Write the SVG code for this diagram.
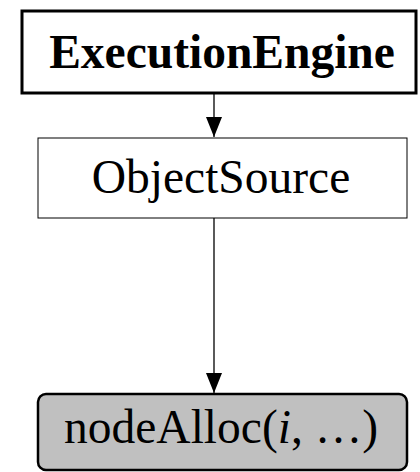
<svg xmlns="http://www.w3.org/2000/svg" width="420" height="472" viewBox="0 0 420 472">
<style>
text{font-family:"Liberation Serif","Times New Roman",serif;font-size:47.5px;fill:#000;text-anchor:middle}
.conn line{stroke:#000;stroke-width:1.3}
</style>
<defs>
<marker id="ah" markerUnits="userSpaceOnUse" markerWidth="20" markerHeight="16" refX="20" refY="8" orient="auto" viewBox="0 0 20 16">
<path d="M0,0 L20,8 L0,16 Z" fill="#000"/>
</marker>
</defs>
<g id="executionEngine">
<rect x="22" y="11" width="394" height="82" fill="#fff" stroke="#000" stroke-width="3"/>
<text x="222" y="68" font-weight="bold">ExecutionEngine</text>
</g>
<g id="objectSource">
<rect x="38" y="138" width="369" height="80" fill="#fff" stroke="#000" stroke-width="1"/>
<text x="221" y="193">ObjectSource</text>
</g>
<g id="nodeAlloc">
<rect x="38" y="394" width="369" height="76" rx="8" fill="#c0c0c0" stroke="#000" stroke-width="2.5"/>
<text x="221" y="443">nodeAlloc(<tspan font-style="italic">i</tspan>, …)</text>
</g>
<g class="conn">
<line x1="214" y1="93" x2="214" y2="137" marker-end="url(#ah)"/>
<line x1="214" y1="218" x2="214" y2="393" marker-end="url(#ah)"/>
</g>
</svg>
